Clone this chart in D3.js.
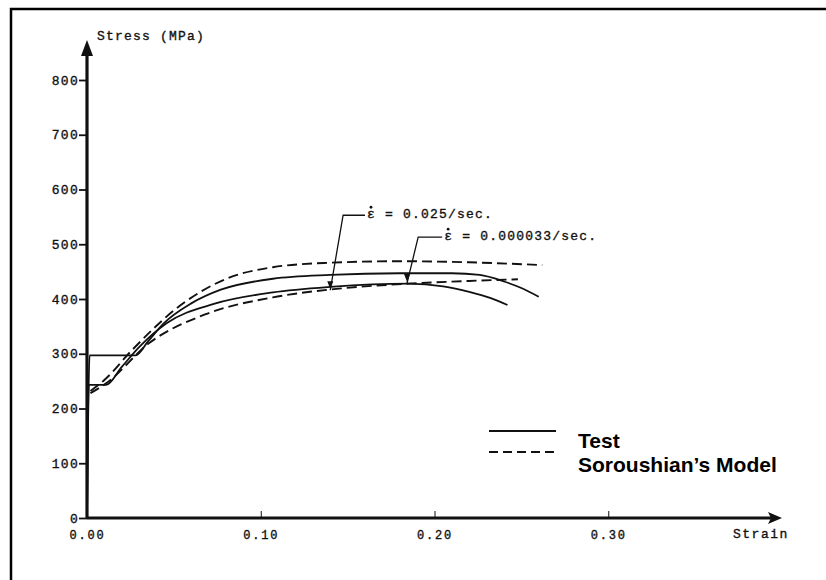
<html>
<head>
<script src="https://d3js.org/d3.v7.min.js"></script>
<style>
  body { margin: 0; background: #fff; }
  .mono { font-family: "Liberation Mono", "DejaVu Sans Mono", monospace; fill: #111; stroke: #111; stroke-width: 0.35px; }
</style>
</head>
<body>
<div id="vis"></div>
<script>
    // strain / stress values
    var fastTest = [[0, 0], [0.0015, 297], [0.028, 297], [0.035, 322], [0.044, 355], [0.06, 392],
        [0.077, 417], [0.107, 437], [0.14, 444], [0.18, 447], [0.21, 447], [0.226, 444],
        [0.24, 432], [0.25, 420], [0.26, 404]];
    var slowTest = [[0, 0], [0.001, 243], [0.011, 243], [0.02, 276], [0.03, 312], [0.046, 356],
        [0.073, 391], [0.107, 412], [0.14, 422], [0.185, 428], [0.205, 423], [0.22, 413],
        [0.232, 402], [0.242, 389]];
    var fastModel = [[0.002, 232], [0.01, 252], [0.026, 307], [0.054, 389], [0.081, 438],
        [0.107, 458], [0.138, 466], [0.18, 469], [0.22, 467], [0.262, 462]];
    var slowModel = [[0.002, 228], [0.011, 246], [0.036, 320], [0.069, 373], [0.107, 403],
        [0.142, 418], [0.185, 428], [0.22, 433], [0.248, 436]];

    var yTicks = [0, 100, 200, 300, 400, 500, 600, 700, 800];
    var xTicks = [0, 0.1, 0.2, 0.3];

    // leader lines for the rate labels: [label end, elbow, pointed point]
    var rateLabels = ["\u03b5 = 0.025/sec.", "\u03b5 = 0.000033/sec."];
    var leaders = [
        [[0.160, 553], [0.1474, 553], [0.140, 416]],
        [[0.2044, 513], [0.1906, 513], [0.1842, 429]]
    ];
    var legendNames = ["Test", "Soroushian\u2019s Model"];

    var W = 826, H = 580;
    var svg = d3.select("#vis").append("svg")
        .attr("width", W)
        .attr("height", H);

    // frame
    svg.append("rect")
        .attr("x", 11).attr("y", 9)
        .attr("width", 830).attr("height", 600)
        .attr("fill", "none")
        .attr("stroke", "#000")
        .attr("stroke-width", 2.5);

    var x = d3.scaleLinear().domain([0, 0.4]).range([87, 782]);
    var y = d3.scaleLinear().domain([0, 800]).range([518, 80]);

    // y axis
    var yAxis = svg.append("g")
        .attr("transform", "translate(" + x(0) + ",0)")
        .call(d3.axisLeft(y).tickValues(yTicks).tickSize(8).tickPadding(0).tickFormat(d3.format("d")));
    yAxis.select(".domain").remove();
    yAxis.selectAll("line").attr("stroke", "#111").attr("stroke-width", 1.8);
    yAxis.selectAll("text").attr("class", "mono")
        .style("font-size", "13px").style("letter-spacing", "1.3px");

    // x axis
    var xAxis = svg.append("g")
        .attr("transform", "translate(0," + y(0) + ")")
        .call(d3.axisBottom(x).tickValues(xTicks).tickSize(-7).tickPadding(12).tickFormat(d3.format(".2f")));
    xAxis.select(".domain").remove();
    xAxis.selectAll("line").attr("stroke", "#111").attr("stroke-width", 1);
    xAxis.selectAll("text").attr("class", "mono")
        .style("font-size", "12px").style("letter-spacing", "1.8px");

    // heavy axis lines with arrows
    svg.append("line")
        .attr("x1", x(0)).attr("y1", y(0)).attr("x2", x(0)).attr("y2", 52)
        .attr("stroke", "#111").attr("stroke-width", 3.2);
    svg.append("path")
        .attr("d", "M" + x(0) + ",40 L" + (x(0) - 6) + ",56 L" + (x(0) + 6) + ",56 Z")
        .attr("fill", "#111");
    svg.append("line")
        .attr("x1", x(0)).attr("y1", y(0)).attr("x2", 772).attr("y2", y(0))
        .attr("stroke", "#111").attr("stroke-width", 3.2);
    svg.append("path")
        .attr("d", "M782," + y(0) + " L768," + (y(0) - 6) + " L771," + y(0) + " L768," + (y(0) + 6) + " Z")
        .attr("fill", "#111");

    svg.append("text").attr("class", "mono")
        .attr("x", 97).attr("y", 40)
        .style("font-size", "13px").style("letter-spacing", "1.2px")
        .text("Stress (MPa)");
    svg.append("text").attr("class", "mono")
        .attr("x", 733).attr("y", 538)
        .style("font-size", "13px").style("letter-spacing", "1.5px")
        .text("Strain");

    // curves
    var line = d3.line()
        .x(function (d) { return x(d[0]); })
        .y(function (d) { return y(d[1]); })
        .curve(d3.curveMonotoneX);

    [fastTest, slowTest].forEach(function (s) {
        svg.append("path").datum(s)
            .attr("d", line)
            .attr("fill", "none")
            .attr("stroke", "#111")
            .attr("stroke-width", 1.8);
    });
    [fastModel, slowModel].forEach(function (s) {
        svg.append("path").datum(s)
            .attr("d", line)
            .attr("fill", "none")
            .attr("stroke", "#111")
            .attr("stroke-width", 1.9)
            .attr("stroke-dasharray", "10,5");
    });

    // rate annotations
    var straight = d3.line()
        .x(function (d) { return x(d[0]); })
        .y(function (d) { return y(d[1]); });
    leaders.forEach(function (p, i) {
        svg.append("path").datum(p)
            .attr("d", straight)
            .attr("fill", "none")
            .attr("stroke", "#111")
            .attr("stroke-width", 1.3);
        var end = p[2];
        svg.append("path")
            .attr("d", "M" + x(end[0]) + "," + (y(end[1]) - 1) + " l-3,-8 l6,0 Z")
            .attr("fill", "#111");
        var tx = x(p[0][0]) + 2, ty = y(p[0][1]) + 3;
        svg.append("text").attr("class", "mono")
            .attr("x", tx).attr("y", ty)
            .style("font-size", "13px").style("letter-spacing", "1.2px")
            .text(rateLabels[i]);
        // rate dot over epsilon
        svg.append("circle")
            .attr("cx", tx + 4).attr("cy", ty - 11)
            .attr("r", 1.4)
            .attr("fill", "#111");
    });

    // legend
    var legend = svg.append("g");
    legend.append("line")
        .attr("x1", 489).attr("x2", 556).attr("y1", 431).attr("y2", 431)
        .attr("stroke", "#111").attr("stroke-width", 1.8);
    legend.append("line")
        .attr("x1", 489).attr("x2", 556).attr("y1", 452).attr("y2", 452)
        .attr("stroke", "#111").attr("stroke-width", 1.8)
        .attr("stroke-dasharray", "9,5");
    legend.selectAll("text.leg")
        .data(legendNames)
        .enter()
        .append("text")
        .attr("x", 578)
        .attr("y", function (d, i) { return 448 + i * 24; })
        .style("font-family", "'Liberation Sans', Arial, sans-serif")
        .style("font-weight", "bold")
        .style("font-size", "21px")
        .style("fill", "#000")
        .text(function (d) { return d; });
</script>
</body>
</html>
